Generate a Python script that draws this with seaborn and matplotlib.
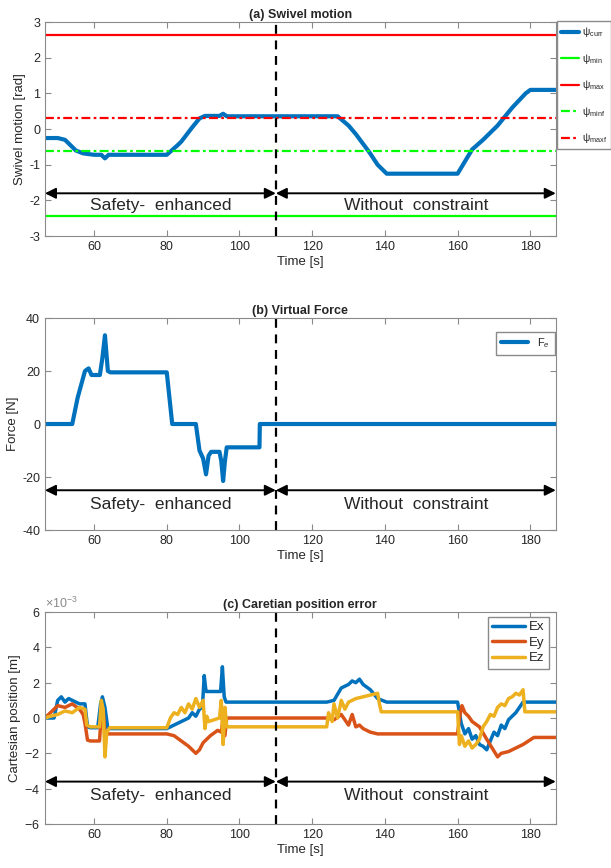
import numpy as np
import matplotlib
matplotlib.use("Agg")
import matplotlib.pyplot as plt
import seaborn as sns

# ── (a) swivel motion ────────────────────────────────────────────────────────
psi_t = [46.5, 50, 52, 55, 57, 60, 62, 63, 64, 70, 80, 83, 84, 87, 89, 90.5, 92,
         94.5, 95.5, 96.5, 110, 127, 130, 132, 135.8, 138, 140.5, 160, 164, 167,
         171, 175, 178.7, 180, 187]
psi_curr = [-0.25, -0.25, -0.3, -0.6, -0.68, -0.72, -0.72, -0.82, -0.72, -0.72,
            -0.72, -0.45, -0.35, 0.05, 0.3, 0.37, 0.37, 0.37, 0.43, 0.36, 0.36,
            0.36, 0.1, -0.14, -0.66, -1.0, -1.25, -1.25, -0.57, -0.3, 0.1, 0.6,
            1.0, 1.1, 1.1]
psi_min, psi_max = -2.43, 2.65
psi_minf, psi_maxf = -0.6, 0.3

# ── (b) virtual force ────────────────────────────────────────────────────────
f_t = [46.5, 54, 55.5, 56.5, 57.5, 58.5, 59.3, 61.6, 62.3, 63, 63.8, 64.5, 80,
       81.5, 88, 89, 90, 90.8, 91.5, 92.2, 94.5, 95, 95.5, 96, 96.5, 105.5,
       105.6, 187]
f_e = [0, 0, 10, 15, 20, 21, 18.5, 18.5, 25, 33.5, 20, 19.5, 19.5, 0, 0, -10,
       -13, -19, -12, -10.5, -10.5, -14, -21.5, -14, -8.8, -8.8, 0, 0]

# ── (c) cartesian position error (x1e-3 m) ──────────────────────────────────
ex_t = [46.5, 49, 50, 51, 52, 53, 54, 55, 56, 57.5, 58.2, 59, 61, 61.8, 62.3, 63,
        63.8, 64.3, 80, 82, 84, 86, 87, 88, 89, 89.8, 90.3, 90.8, 91.3, 94.8,
        95.3, 95.8, 96.3, 124, 126, 128, 130, 131, 132, 133, 134, 136, 138,
        140.5, 160, 161, 162, 163, 164, 165, 166, 167, 168, 169, 170, 171, 172,
        173, 174, 175, 176, 177, 178, 179, 187]
ex = [0, 0, 1.0, 1.2, 0.9, 1.1, 1.0, 0.9, 0.8, 0.8, -0.5, -0.55, -0.55, 0.8, 1.2,
      0.6, -0.6, -0.6, -0.6, -0.4, -0.2, 0.0, 0.3, 0.1, 0.5, 0.6, 2.4, 1.5, 1.5,
      1.5, 2.9, 1.2, 0.9, 0.9, 1.0, 1.7, 1.9, 2.1, 2.0, 2.2, 1.9, 1.6, 1.1, 0.9,
      0.9, -0.3, -0.9, -0.6, -1.2, -1.0, -1.5, -1.6, -1.8, -1.3, -0.8, -1.0,
      -0.4, -0.6, -0.1, 0.1, 0.3, 0.6, 0.9, 0.9, 0.9]

ey_t = [46.5, 48, 50, 52, 54, 56, 57, 57.5, 58.2, 59, 61.5, 62, 62.5, 63, 64, 80,
        82, 84, 86, 88, 89, 90, 91, 92, 94, 95, 95.5, 96, 96.5, 124, 126, 128,
        130, 131, 132, 133, 134, 136, 138, 140.5, 160, 160.5, 161.2, 162, 163,
        164, 166, 168, 171, 172, 174, 176, 178, 181, 187]
ey = [0, 0.3, 0.7, 0.6, 0.8, 0.5, 0.2, -0.3, -1.25, -1.3, -1.3, 0.2, 0.5, -0.9,
      -0.9, -0.9, -1.0, -1.3, -1.6, -2.0, -1.8, -1.4, -1.2, -1.0, -0.7, -0.8,
      0.0, -1.0, 0.0, 0.0, -0.1, 0.2, -0.4, 0.2, -0.5, -0.4, -0.6, -0.8, -0.9,
      -0.9, -0.9, 0.0, 0.7, 0.3, 0.1, -0.2, -0.5, -1.2, -2.2, -2.0, -1.9, -1.7,
      -1.5, -1.1, -1.1]

ez_t = [46.5, 48, 50, 52, 54, 56, 57.5, 58, 59, 61.5, 62, 62.5, 63, 63.5, 64.3,
        80, 81, 82, 83, 84, 85, 86, 87, 88, 89, 90, 90.5, 91, 91.5, 94.5, 95,
        95.5, 96, 96.5, 124, 124.5, 125.5, 126, 127, 128, 129, 130, 132, 134,
        136, 138, 138.5, 139, 140.5, 160, 160.5, 161, 162, 163, 164, 165, 166,
        167, 168, 169, 170, 171, 172, 173, 174, 175, 176, 177, 178, 178.5, 187]
ez = [0, 0.1, 0.2, 0.4, 0.3, 0.6, 0.5, -0.4, -0.5, -0.5, 1.0, 0.5, -2.2, -0.8,
      -0.55, -0.55, 0.0, 0.3, 0.2, 0.6, 0.3, 0.8, 0.5, 1.1, 0.6, 1.0, -0.6, 0.1,
      -0.2, 0.0, 1.0, -1.5, 0.6, -0.5, -0.5, 0.3, -0.2, 0.8, 0.0, 1.0, 0.5, 0.9,
      1.1, 1.2, 1.3, 1.4, 0.8, 0.35, 0.35, 0.35, -1.5, -1.0, -1.6, -1.3, -1.7,
      -1.5, -1.2, -0.5, -0.2, 0.2, 0.1, 0.6, 0.8, 0.7, 1.1, 1.2, 1.4, 1.3, 1.6,
      0.35, 0.35]

T_LIM = (46.5, 187)
T_SWITCH = 110

sns.set_style("ticks")
plt.rcParams["font.family"] = ["Liberation Sans", "DejaVu Sans"]
plt.rcParams["mathtext.fontset"] = "custom"
plt.rcParams["mathtext.rm"] = "Liberation Sans"
plt.rcParams["mathtext.it"] = "Liberation Sans:italic"
plt.rcParams["axes.unicode_minus"] = False
plt.rcParams["xtick.direction"] = "in"
plt.rcParams["ytick.direction"] = "in"

BLUE, ORANGE, YELLOW = "#0072BD", "#D95319", "#EDB120"
GRAY = "#8a8a8a"

fig = plt.figure(figsize=(6.11, 8.68), dpi=100)
ax_a = fig.add_axes([0.0736, 0.728, 0.836, 0.2465])
ax_b = fig.add_axes([0.0736, 0.3894, 0.836, 0.2442])
ax_c = fig.add_axes([0.0736, 0.0507, 0.836, 0.2442])


def style_axes(ax):
    for s in ax.spines.values():
        s.set_color(GRAY)
        s.set_linewidth(0.8)
    ax.tick_params(axis="both", colors=GRAY, labelcolor="#262626",
                   labelsize=9, length=4, top=True, right=True)
    ax.set_xlim(*T_LIM)
    ax.set_xticks([60, 80, 100, 120, 140, 160, 180])
    ax.set_xlabel("Time [s]", fontsize=9.5, color="#262626", labelpad=2)


def add_arrows(ax, y_arrow, y_text):
    for x0, x1, label in [(T_LIM[0], T_SWITCH, "Safety-  enhanced"),
                          (T_SWITCH, T_LIM[1], "Without  constraint")]:
        ax.annotate("", xy=(x0, y_arrow), xytext=(x1, y_arrow),
                    arrowprops=dict(arrowstyle="<|-|>", color="black", lw=1.4,
                                    mutation_scale=16, shrinkA=0, shrinkB=0))
        ax.text((x0 + x1) / 2, y_text, label, ha="center", va="center",
                fontsize=12.5)
    ax.axvline(T_SWITCH, color="black", ls=(0, (4, 3)), lw=1.6)


# — (a) Swivel motion —
sns.lineplot(x=psi_t, y=psi_curr, ax=ax_a, color=BLUE, lw=3, estimator=None,
             sort=False, label=r"$\mathrm{\psi}_{\mathrm{curr}}$")
ax_a.axhline(psi_min, color="#00FF00", lw=1.6,
             label=r"$\mathrm{\psi}_{\mathrm{min}}$")
ax_a.axhline(psi_max, color="#FF0000", lw=1.6,
             label=r"$\mathrm{\psi}_{\mathrm{max}}$")
ax_a.axhline(psi_minf, color="#00FF00", lw=1.6, ls=(0, (4, 1.5, 1.2, 1.5)),
             label=r"$\mathrm{\psi}_{\mathrm{minf}}$")
ax_a.axhline(psi_maxf, color="#FF0000", lw=1.6, ls=(0, (4, 1.5, 1.2, 1.5)),
             label=r"$\mathrm{\psi}_{\mathrm{maxf}}$")
style_axes(ax_a)
ax_a.set_ylim(-3, 3)
ax_a.set_yticks(range(-3, 4))
ax_a.set_ylabel("Swivel motion [rad]", fontsize=9.5, labelpad=2)
ax_a.set_title("(a) Swivel motion", fontsize=9, fontweight="bold", pad=3)
add_arrows(ax_a, -1.8, -2.15)
ax_a.legend(loc="upper left", bbox_to_anchor=(1.0, 1.01), fontsize=7.5,
            labelspacing=1.2, handlelength=1.7, handletextpad=0.3,
            borderpad=0.4, fancybox=False, edgecolor=GRAY, framealpha=1,
            borderaxespad=0.1)

# — (b) Virtual force —
sns.lineplot(x=f_t, y=f_e, ax=ax_b, color=BLUE, lw=3, estimator=None,
             sort=False, label=r"F$_e$")
style_axes(ax_b)
ax_b.set_ylim(-40, 40)
ax_b.set_yticks([-40, -20, 0, 20, 40])
ax_b.set_ylabel("Force [N]", fontsize=9.5, labelpad=2)
ax_b.set_title("(b) Virtual Force", fontsize=9, fontweight="bold", pad=3)
add_arrows(ax_b, -25, -30.5)
ax_b.legend(loc="upper right", bbox_to_anchor=(1.0, 0.94), fontsize=8,
            handlelength=2.5, fancybox=False, edgecolor=GRAY, framealpha=1,
            borderaxespad=0.1)

# — (c) Cartesian position error —
for t, v, c, name in [(ex_t, ex, BLUE, "Ex"), (ey_t, ey, ORANGE, "Ey"),
                      (ez_t, ez, YELLOW, "Ez")]:
    sns.lineplot(x=t, y=np.array(v) * 1e-3, ax=ax_c, color=c, lw=2.5,
                 estimator=None, sort=False, label=name)
style_axes(ax_c)
ax_c.set_ylim(-6e-3, 6e-3)
ax_c.set_yticks(np.arange(-6, 7, 2) * 1e-3)
ax_c.ticklabel_format(axis="y", style="sci", scilimits=(0, 0), useMathText=True)
ax_c.yaxis.get_offset_text().set_fontsize(9)
ax_c.yaxis.get_offset_text().set_color(GRAY)
ax_c.set_ylabel("Cartesian position [m]", fontsize=9.5, labelpad=2)
ax_c.set_title("(c) Caretian position error", fontsize=9, fontweight="bold",
               pad=3)
add_arrows(ax_c, -3.6e-3, -4.4e-3)
ax_c.legend(loc="upper right", bbox_to_anchor=(0.99, 0.985), fontsize=9.5,
            handlelength=2.5, fancybox=False, edgecolor=GRAY, framealpha=1,
            labelspacing=0.25, borderpad=0.35, handletextpad=0.3,
            borderaxespad=0.1)

fig.savefig("out.png", dpi=100)
